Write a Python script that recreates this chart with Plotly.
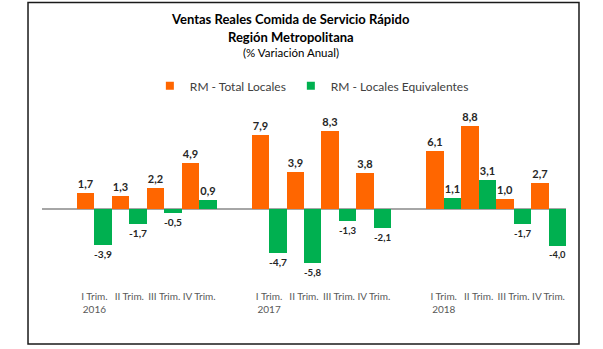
import plotly.graph_objects as go

# ---- data ----
quarters = ["I Trim.", "II Trim.", "III Trim.", "IV Trim."]
years = ["2016", "2017", "2018"]
total_locales = [1.7, 1.3, 2.2, 4.9, 7.9, 3.9, 8.3, 3.8, 6.1, 8.8, 1.0, 2.7]
locales_equiv = [-3.9, -1.7, -0.5, 0.9, -4.7, -5.8, -1.3, -2.1, 1.1, 3.1, -1.7, -4.0]
series_names = ["RM - Total Locales", "RM - Locales Equivalentes"]
colors = ["#FF6600", "#00B050"]

title_l1 = "Ventas Reales Comida de Servicio Rápido"
title_l2 = "Región Metropolitana"
title_l3 = "(% Variación Anual)"

# build categories: a blank slot before each year group
cats, ticktext, y_tot, y_eq = [], [], [], []
k = 0
for yi, yr in enumerate(years):
    cats.append(f"gap{yi}")
    ticktext.append("")
    y_tot.append(None)
    y_eq.append(None)
    for qi, q in enumerate(quarters):
        cats.append(f"{q} {yr}")
        ticktext.append(f"{q}<br>{yr}" if qi == 0 else f"{q}<br> ")
        y_tot.append(total_locales[k])
        y_eq.append(locales_equiv[k])
        k += 1

fig = go.Figure()
for name, vals, col in zip(series_names, [y_tot, y_eq], colors):
    fig.add_trace(go.Bar(
        x=cats, y=vals, name=name, marker=dict(color=col, line=dict(width=0)),
        text=[None if v is None else f"{v:.1f}".replace(".", ",") for v in vals],
        textposition="outside", cliponaxis=False, textangle=0,
        textfont=dict(family="Lato", size=11, color="#262626", weight="bold"),
        showlegend=False,
    ))
    # legend proxy with small square marker
    fig.add_trace(go.Scatter(
        x=[None], y=[None], mode="markers", name=name,
        marker=dict(symbol="square", size=8, color=col),
    ))

fig.update_layout(
    width=603, height=349,
    margin=dict(l=42, r=37, t=100, b=60),
    paper_bgcolor="white", plot_bgcolor="white",
    barmode="group", bargap=0, bargroupgap=0,
    font=dict(family="Lato", color="#404040"),
    legend=dict(orientation="h", x=0.515, xanchor="center", y=1.075, yanchor="middle",
                font=dict(size=12, color="#404040"), itemwidth=30, traceorder="normal",
                bgcolor="rgba(0,0,0,0)"),
    xaxis=dict(type="category", categoryorder="array", categoryarray=cats,
               tickmode="array", tickvals=cats, ticktext=ticktext, tickangle=0,
               tickfont=dict(size=10, color="#595959"), ticks="",
               showline=False, showgrid=False, range=[-0.5, len(cats) - 0.5]),
    yaxis=dict(range=[-8.6, 11.6], showgrid=False, showticklabels=False,
               zeroline=True, zerolinecolor="#A6A6A6", zerolinewidth=1.5,
               showline=False, ticks=""),
    showlegend=True,
)

# titles
fig.add_annotation(text=f"<b>{title_l1}</b>", xref="paper", yref="paper",
                   x=0.475, y=1.427, showarrow=False, yanchor="middle",
                   font=dict(family="Lato", size=13, color="#000000"))
fig.add_annotation(text=f"<b>{title_l2}</b>", xref="paper", yref="paper",
                   x=0.475, y=1.333, showarrow=False, yanchor="middle",
                   font=dict(family="Lato", size=13, color="#000000"))
fig.add_annotation(text=title_l3, xref="paper", yref="paper",
                   x=0.475, y=1.249, showarrow=False, yanchor="middle",
                   font=dict(family="Lato", size=11.5, color="#000000"))

# outer border
fig.add_shape(type="rect", xref="paper", yref="paper",
              x0=-0.0267, x1=1.0248, y0=-0.291, y1=1.516,
              line=dict(color="#1a1a1a", width=1.5))

fig.write_html("out.html")
